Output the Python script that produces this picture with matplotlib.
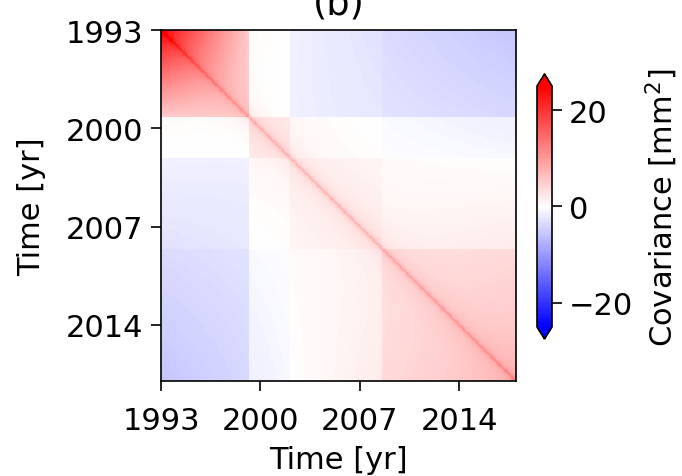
import numpy as np
import matplotlib
matplotlib.use("Agg")
import matplotlib.pyplot as plt

# Time axis of the GMSL record (monthly, 1993-2018)
start_year = 1993.0
end_year = 2018.0
steps_per_year = 12

# Long-term drift error common to the whole record [mm/yr], referenced at drift_ref
drift_sigma = 0.145
drift_ref = 2004.0

# TOPEX-A drift error [mm/yr] active until the TOPEX-A/B switch
tpa_end = 1999.2
tpa_sigma = 0.65

# Instrumental jumps (TOPEX-A/B, Jason-1, Jason-2) [mm]
jump_dates = [1999.2, 2002.1, 2008.6]
jump_sigmas = [2.59, 1.435, 1.456]
jump_after_fraction = [0.665, 0.62, 0.264]

# Correlated noise near the diagonal: (sigma [mm], correlation time [yr])
medium_freq = (1.45, 1.5)
high_freq = (2.1, 0.18)

tick_years = [1993, 2000, 2007, 2014]
cbar_ticks = [-20, 0, 20]
vlim = 25

t = start_year + (np.arange(int((end_year - start_year) * steps_per_year)) + 0.5) / steps_per_year
t1, t2 = np.meshgrid(t, t)

cov = drift_sigma ** 2 * (t1 - drift_ref) * (t2 - drift_ref)
tpa = np.where(t < tpa_end, t - tpa_end, 0.0)
cov += tpa_sigma ** 2 * np.outer(tpa, tpa)
for date, sig, frac in zip(jump_dates, jump_sigmas, jump_after_fraction):
    step = (t >= date).astype(float) - frac
    cov += sig ** 2 * np.outer(step, step)
dt = np.abs(t1 - t2)
cov += medium_freq[0] ** 2 * np.exp(-dt / medium_freq[1])
cov += high_freq[0] ** 2 * np.exp(-dt / high_freq[1])

plt.rcParams["font.size"] = 22
fig = plt.figure(figsize=(6.82, 4.77), dpi=100)
ax = fig.add_axes([0.2361, 0.1992, 0.5205, 0.7358])
im = ax.imshow(cov, cmap="bwr", vmin=-vlim, vmax=vlim, origin="upper",
               extent=[start_year, end_year, end_year, start_year],
               aspect="auto", interpolation="nearest")
ax.set_xticks(tick_years)
ax.set_yticks(tick_years)
ax.tick_params(length=7, width=1.2)
ax.tick_params(axis="x", pad=11)
ax.tick_params(axis="y", pad=6)
ax.set_xlabel("Time [yr]", labelpad=7)
ax.set_ylabel("Time [yr]", labelpad=14)
ax.set_title("(b)", pad=12)
for s in ax.spines.values():
    s.set_linewidth(1.2)

cax = fig.add_axes([0.7874, 0.2872, 0.022, 0.5556])
cb = fig.colorbar(im, cax=cax, extend="both", ticks=cbar_ticks)
cb.set_label("Covariance [mm$^2$]", labelpad=8)
cb.ax.tick_params(length=7, width=1.2, pad=5)
cb.outline.set_linewidth(1.2)

fig.savefig("out.png", dpi=100)
